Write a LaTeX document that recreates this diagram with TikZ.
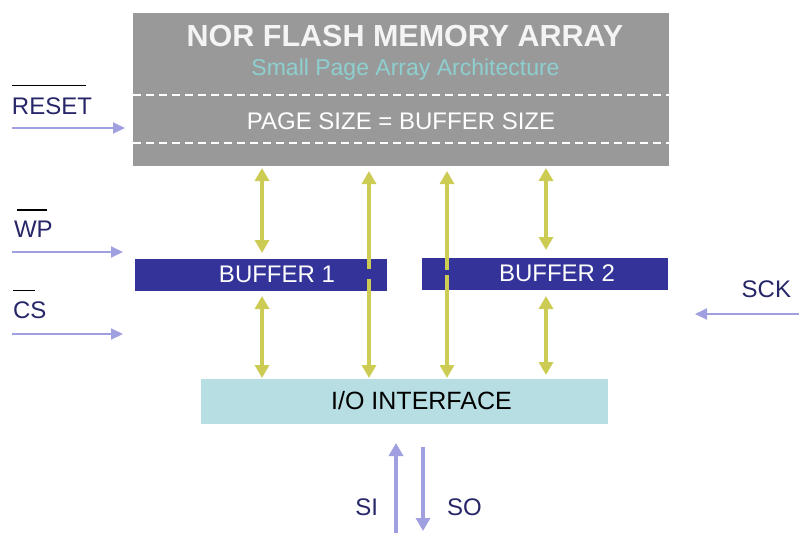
\documentclass[tikz,border=0pt]{standalone}
\usepackage{fontspec}
\setmainfont{Liberation Sans}
\usetikzlibrary{arrows.meta,calc}
\definecolor{arraygray}{HTML}{999999}
\definecolor{titlewhite}{HTML}{F4F4F4}
\definecolor{subteal}{HTML}{8ECFD0}
\definecolor{bufblue}{HTML}{333399}
\definecolor{iocol}{HTML}{B7DEE3}
\definecolor{ycol}{HTML}{CCCC55}
\definecolor{pcol}{HTML}{A0A0E0}
\definecolor{lblcol}{HTML}{262668}
\begin{document}
\begin{tikzpicture}[x=1pt,y=-1pt,
  block/.style={rectangle,inner sep=0pt,outer sep=0pt,draw=none},
  ytip/.tip={Triangle[width=14pt,length=13pt]},
  ptip/.tip={Triangle[width=11pt,length=12pt]},
  stip/.tip={Triangle[width=14pt,length=13pt]},
  ybi/.style={draw=ycol,line width=4pt,ytip-ytip},
  parrow/.style={draw=pcol,line width=2pt,-ptip},
  sarrow/.style={draw=pcol,line width=3.5pt,-stip},
  sig/.style={inner sep=0pt,outer sep=0pt,text=lblcol,font=\fontsize{24}{28}\selectfont},
  bar/.style={draw=black,line width=1.6pt},
  wdash/.style={draw=white,line width=1.3pt,dash pattern=on 8pt off 5pt}
]
\useasboundingbox (0,0) rectangle (799,533);

% blocks
\node[block,fill=arraygray,minimum width=536pt,minimum height=153pt] (array) at (401,89.5) {};
\node[block,fill=bufblue,minimum width=252pt,minimum height=32pt] (buf1) at (261,275) {};
\node[block,fill=bufblue,minimum width=246pt,minimum height=32pt] (buf2) at (545,274) {};
\node[block,fill=iocol,minimum width=407pt,minimum height=45pt] (io) at (404.5,401.5) {};

% array texts
\node[inner sep=0pt,anchor=base,text=titlewhite,font=\bfseries\fontsize{30.5}{36}\selectfont] (title) at (405,46.5) {NOR FLASH MEMORY ARRAY};
\node[inner sep=0pt,anchor=base,text=subteal,font=\fontsize{23}{27}\selectfont] (sub) at (405.5,75) {Small Page Array Architecture};
\node[inner sep=0pt,anchor=base,text=white,font=\fontsize{24}{29}\selectfont] (page) at (401,129) {PAGE SIZE = BUFFER SIZE};
\draw[wdash] ($(array.north west)+(0,82)$) -- ($(array.north east)+(0,82)$);
\draw[wdash] ($(array.north west)+(0,130)$) -- ($(array.north east)+(0,130)$);

% buffer texts
\node[inner sep=0pt,text=white,font=\fontsize{24}{28}\selectfont] (b1t) at (277,274) {BUFFER 1};
\node[inner sep=0pt,text=white,font=\fontsize{24}{28}\selectfont] (b2t) at (557,273) {BUFFER 2};
\node[inner sep=0pt,text=black,font=\fontsize{25}{30}\selectfont] (iot) at (421.5,401) {I/O INTERFACE};

% column coordinates
\coordinate (cA) at (262,0);
\coordinate (cB) at (369,0);
\coordinate (cC) at (447,0);
\coordinate (cD) at (546,0);

% yellow data paths
\draw[ybi,shorten <=2pt,shorten >=6pt] (cA |- array.south) -- (cA |- buf1.north);
\draw[ybi,shorten <=5pt,shorten >=1pt] (cA |- buf1.south) -- (cA |- io.north);
\draw[ybi,shorten <=5pt,shorten >=1pt] (cB |- array.south) -- (cB |- io.north);
\draw[ybi,shorten <=5pt,shorten >=1pt] (cC |- array.south) -- (cC |- io.north);
\draw[ybi,shorten <=2pt,shorten >=8pt] (cD |- array.south) -- (cD |- buf2.north);
\draw[ybi,shorten <=6pt,shorten >=4pt] (cD |- buf2.south) -- (cD |- io.north);
% breaks of the through-lines inside the buffers
\fill[bufblue] (365,269) rectangle (373,279);
\fill[bufblue] (443,270) rectangle (451,275);

% control signals
\node[sig,anchor=west] (rst) at (12,106) {RESET};
\draw[bar] ($(rst.north west)+(0,-12)$) -- ($(rst.north west)+(74,-12)$);
\coordinate (rstin) at (12,128);
\draw[parrow,shorten >=8pt] (rstin) -- (array.west |- rstin);

\node[sig,anchor=west] (wp) at (14,229) {WP};
\draw[bar] ($(wp.north west)+(3,-11)$) -- ($(wp.north west)+(33,-11)$);
\coordinate (wpin) at (12,252);
\draw[parrow,shorten >=12pt] (wpin) -- (buf1.west |- wpin);

\node[sig,anchor=west] (cs) at (13,310) {CS};
\draw[bar] ($(cs.north west)+(0,-11)$) -- ($(cs.north west)+(22,-11)$);
\coordinate (csin) at (12,334);
\draw[parrow,shorten >=12pt] (csin) -- (buf1.west |- csin);

\node[sig,anchor=east] (sck) at (791,289) {SCK};
\coordinate (sckin) at (799,314);
\coordinate (sckend) at (695,314);
\draw[parrow] (sckin) -- (sckend);

% serial in / out
\coordinate (siX) at (396,533);
\coordinate (soX) at (423,0);
\coordinate (soend) at (423,531);
\draw[sarrow,shorten >=19pt] (siX) -- (siX |- io.south);
\draw[sarrow,shorten <=23pt] (soX |- io.south) -- (soend);
\node[sig,anchor=east] (si) at (378,507) {SI};
\node[sig,anchor=west] (so) at (447,507) {SO};
\end{tikzpicture}
\end{document}
